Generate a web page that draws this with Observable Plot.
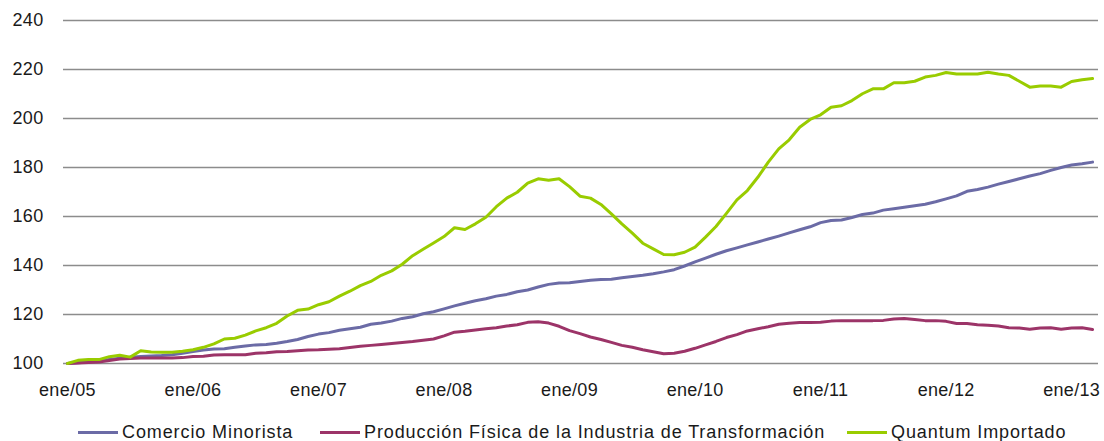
<!DOCTYPE html>
<html>
<head>
<meta charset="utf-8">
<script src="https://cdn.jsdelivr.net/npm/d3@7"></script>
<script src="https://cdn.jsdelivr.net/npm/@observablehq/plot@0.6"></script>
<style>
  html, body { margin: 0; padding: 0; background: #fff; }
  #wrap { width: 1104px; position: relative; font-family: Arial, "Liberation Sans", sans-serif; }
  #legend { position: relative; height: 31px; font-size: 18px; color: #1a1a1a; letter-spacing: 0.9px; }
  .item { position: absolute; top: 13px; white-space: nowrap; line-height: 18px; }
  .sw { display: inline-block; width: 40px; height: 3px; vertical-align: middle; margin-right: 4px; position: relative; top: -1px; }
</style>
</head>
<body>
<div id="wrap"><div id="chart"></div><div id="legend"></div></div>
<script>
// Month index 0 = ene/05 ... 98 = mar/13
const tickIndex = [0, 12, 24, 36, 48, 60, 72, 84, 96];
const tickLabels = ["ene/05", "ene/06", "ene/07", "ene/08", "ene/09", "ene/10", "ene/11", "ene/12", "ene/13"];
const yTicks = [100, 120, 140, 160, 180, 200, 220, 240];

const seriesNames = ["Comercio Minorista", "Producción Física de la Industria de Transformación", "Quantum Importado"];
const seriesColors = ["#6b6ba6", "#9c3468", "#99cc00"];

const comercio = [
  100, 100.3, 100.6, 101.0, 101.6, 102.1, 102.6, 102.9, 103.1, 103.3, 103.6, 104.2,
  104.9, 105.5, 105.9, 106.0, 106.6, 107.1, 107.6, 107.8, 108.3, 109.0, 109.8, 111.0,
  112.0, 112.6, 113.6, 114.2, 114.8, 116.0, 116.5, 117.3, 118.4, 119.1, 120.3, 121.1,
  122.3, 123.5, 124.6, 125.6, 126.4, 127.5, 128.2, 129.3, 130.0, 131.2, 132.3, 132.9,
  133.0, 133.5, 134.0, 134.3, 134.4, 135.0, 135.5, 136.0, 136.6, 137.4, 138.3, 139.8,
  141.5, 143.0, 144.6, 146.0, 147.2, 148.4, 149.6, 150.8, 152.0, 153.3, 154.6, 155.8,
  157.5, 158.4, 158.6, 159.6, 160.8, 161.4, 162.6, 163.2, 163.8, 164.4, 165.0, 166.0,
  167.2, 168.4, 170.3, 171.0, 172.0, 173.2, 174.3, 175.4, 176.5, 177.5, 178.8, 180.0,
  181.0, 181.5, 182.2
];
const produccion = [
  100, 100.2, 100.4, 100.6, 101.2, 101.8, 102.0, 102.2, 102.2, 102.2, 102.2, 102.4,
  102.9, 103.0, 103.5, 103.6, 103.6, 103.6, 104.2, 104.4, 104.8, 104.9, 105.2, 105.5,
  105.6, 105.8, 106.0, 106.5, 107.0, 107.4, 107.8, 108.2, 108.6, 109.0, 109.5, 110.0,
  111.3, 112.8, 113.2, 113.7, 114.2, 114.6, 115.3, 115.8, 116.8, 117.0, 116.5, 115.2,
  113.4, 112.2, 110.8, 109.8, 108.6, 107.4, 106.6, 105.6, 104.8, 104.0, 104.2, 105.0,
  106.2, 107.6, 109.0, 110.6, 111.8, 113.3, 114.2, 115.0, 116.0, 116.4, 116.7, 116.7,
  116.8, 117.3, 117.5, 117.5, 117.5, 117.5, 117.6, 118.2, 118.4, 118.0, 117.5, 117.5,
  117.2, 116.3, 116.3, 115.8, 115.6, 115.3, 114.6, 114.5, 114.0, 114.5, 114.6, 114.0,
  114.5, 114.6, 113.9
];
const quantum = [
  100, 101.3, 101.6, 101.6, 102.8, 103.4, 102.6, 105.2, 104.7, 104.6, 104.6, 105.0,
  105.6, 106.6, 108.0, 110.0, 110.3, 111.6, 113.3, 114.6, 116.4, 119.4, 121.7, 122.2,
  124.0, 125.2, 127.5, 129.5, 131.8, 133.5, 136.0, 137.8, 140.5, 144.0, 146.6, 149.2,
  151.8, 155.4, 154.7, 157.0, 159.7, 164.0, 167.5, 169.9, 173.6, 175.4, 174.8, 175.4,
  172.2, 168.3, 167.5, 164.9, 161.1, 157.0, 153.2, 149.1, 146.8, 144.5, 144.4, 145.4,
  147.5, 151.6, 155.9, 161.3, 166.8, 170.6, 176.0, 182.2, 187.6, 191.3, 196.4, 199.6,
  201.5, 204.6, 205.2, 207.3, 210.1, 212.1, 212.1, 214.6, 214.6, 215.2, 216.9, 217.6,
  218.8, 218.2, 218.2, 218.2, 218.9, 218.2, 217.6, 215.2, 212.8, 213.3, 213.3, 212.8,
  215.1, 215.8, 216.3
];

const allSeries = [comercio, produccion, quantum];
const rows = [];
allSeries.forEach((vals, s) => vals.forEach((v, i) => rows.push({i, v, s: seriesNames[s]})));

const chart = Plot.plot({
  width: 1104,
  height: 410,
  marginLeft: 63,
  marginRight: 6,
  marginTop: 20,
  marginBottom: 47,
  style: {fontFamily: "Arial, 'Liberation Sans', sans-serif", fontSize: "18px", color: "#1a1a1a", background: "#fff"},
  x: {domain: [-0.38, 98.57], ticks: tickIndex, tickFormat: (d) => tickLabels[tickIndex.indexOf(d)], tickSize: 0, tickPadding: 20, label: null},
  y: {domain: [100, 240], ticks: yTicks, tickSize: 0, tickPadding: 20, label: null},
  color: {domain: seriesNames, range: seriesColors},
  marks: [
    Plot.ruleY(yTicks, {stroke: "#8c8c8c", strokeWidth: 1.6}),
    Plot.line(rows, {x: "i", y: "v", z: "s", stroke: "s", strokeWidth: 3, curve: "linear"})
  ]
});
chart.querySelectorAll("text").forEach(t => t.style.letterSpacing = "0.3px");
document.getElementById("chart").appendChild(chart);

const legendLeft = [78, 320, 847];
const legend = document.getElementById("legend");
seriesNames.forEach((name, k) => {
  const it = document.createElement("div");
  it.className = "item";
  it.style.left = legendLeft[k] + "px";
  const sw = document.createElement("span");
  sw.className = "sw";
  sw.style.background = seriesColors[k];
  it.appendChild(sw);
  it.appendChild(document.createTextNode(name));
  legend.appendChild(it);
});
</script>
</body>
</html>
